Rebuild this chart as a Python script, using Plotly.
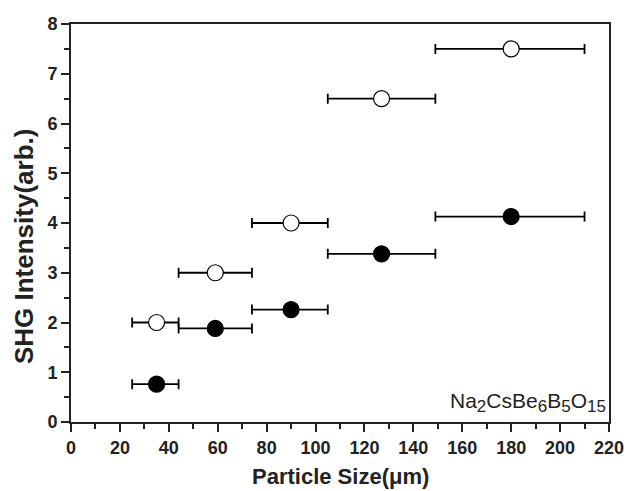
import plotly.graph_objects as go

size = [35, 59, 90, 127, 180]
x_lo = [25, 44, 74, 105, 149]
x_hi = [44, 74, 105, 149, 210]
open_vals = [2.0, 3.0, 4.0, 6.5, 7.5]
filled_vals = [0.76, 1.88, 2.26, 3.38, 4.13]

plus = [h - s for h, s in zip(x_hi, size)]
minus = [s - l for s, l in zip(size, x_lo)]

fig = go.Figure()
for vals, fill in [(filled_vals, "black"), (open_vals, "white")]:
    fig.add_trace(go.Scatter(
        x=size, y=vals, mode="markers",
        marker=dict(size=16, color=fill, line=dict(color="black", width=1.2)),
        error_x=dict(type="data", symmetric=False, array=plus, arrayminus=minus,
                     color="black", thickness=1.8, width=5),
        showlegend=False,
    ))

FAM = "Liberation Sans, Arial, sans-serif"
INK = "#222"
tickfont = dict(size=18, family=FAM, color=INK, weight="bold")
sub = "<sub><span style='font-size:17px'>{}</span></sub>"
formula = "Na" + sub.format("2") + "CsBe" + sub.format("6") + "B" + sub.format("5") + "O" + sub.format("15")

fig.update_layout(
    width=627, height=491,
    margin=dict(l=71, r=18, t=24, b=69),
    paper_bgcolor="white", plot_bgcolor="white",
    font=dict(family=FAM, color=INK),
    xaxis=dict(range=[0, 220], dtick=20, tick0=0, showgrid=False, zeroline=False,
               showline=True, linecolor=INK, linewidth=2, mirror=True, automargin=False,
               ticks="outside", ticklen=8, tickwidth=2, tickcolor=INK,
               minor=dict(dtick=10, ticks="outside", ticklen=5, tickwidth=2, tickcolor=INK),
               tickfont=tickfont),
    yaxis=dict(range=[0, 8], dtick=1, tick0=0, showgrid=False, zeroline=False,
               showline=True, linecolor=INK, linewidth=2, mirror=True, automargin=False,
               ticks="outside", ticklen=8, tickwidth=2, tickcolor=INK,
               minor=dict(dtick=0.5, ticks="outside", ticklen=5, tickwidth=2, tickcolor=INK),
               tickfont=tickfont),
    annotations=[
        dict(x=0.5, y=-0.137, xref="paper", yref="paper", xanchor="center", yanchor="middle",
             showarrow=False, text="<b>Particle Size(μm)</b>", borderpad=0,
             font=dict(size=22, family=FAM, color=INK)),
        dict(x=-0.087, y=0.44, xref="paper", yref="paper", xanchor="center", yanchor="middle",
             showarrow=False, textangle=-90, text="<b>SHG Intensity(arb.)</b>",
             font=dict(size=26, family=FAM, color=INK)),
        dict(x=1, y=0, xref="paper", yref="paper", xanchor="right", yanchor="bottom",
             xshift=-1, yshift=4, showarrow=False, text=formula,
             font=dict(size=21, color=INK, family=FAM)),
    ],
)
fig.write_html("out.html", post_script="document.body.style.margin='0';",
               config={"displayModeBar": False})
